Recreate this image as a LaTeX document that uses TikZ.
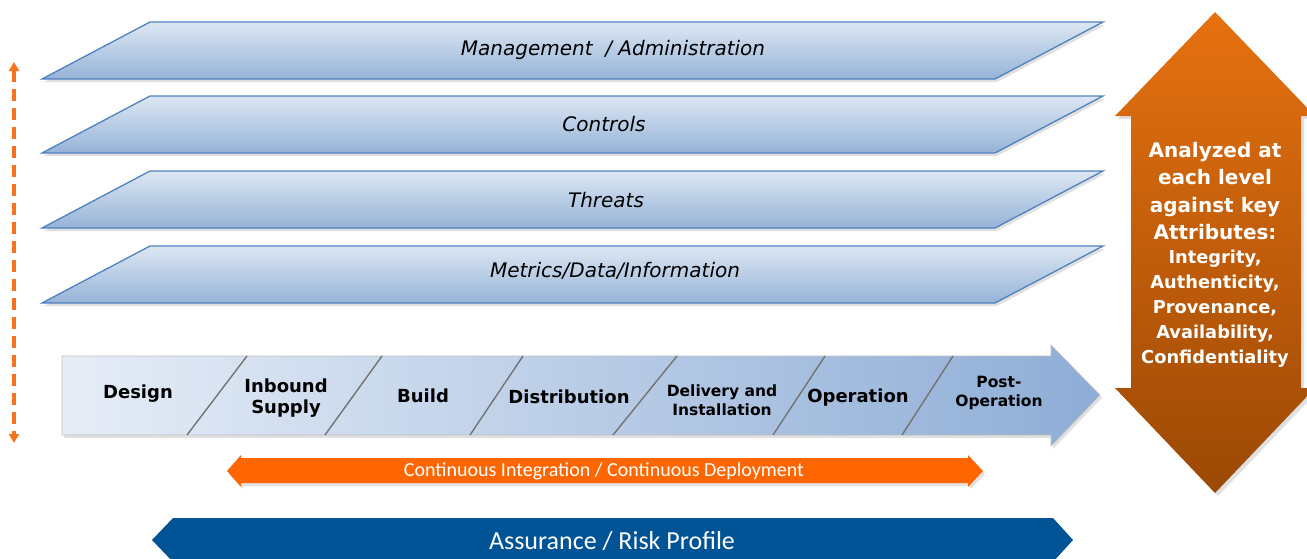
\documentclass[tikz,border=0pt]{standalone}
\usepackage{fontspec}
\setmainfont{DejaVu Sans}
\newfontfamily\calfont{Carlito}
\usetikzlibrary{arrows.meta}
\definecolor{layertop}{RGB}{221,231,243}
\definecolor{layerbot}{RGB}{149,179,215}
\definecolor{layeredge}{RGB}{79,129,189}
\definecolor{chevl}{RGB}{230,237,247}
\definecolor{chevr}{RGB}{142,173,214}
\definecolor{cicd}{RGB}{255,102,0}
\definecolor{assure}{RGB}{0,84,150}
\definecolor{oratop}{RGB}{230,113,16}
\definecolor{orabot}{RGB}{155,73,5}
\definecolor{dasharr}{RGB}{245,115,30}
\tikzset{
  layerbox/.style={top color=layertop, bottom color=layerbot, draw=layeredge, line width=1.3pt, line join=miter},
  shadowfill/.style={fill=black, opacity=0.12},
  layertext/.style={font=\itshape\fontsize{20}{24}\selectfont, text=black},
  stagetext/.style={font=\bfseries\fontsize{18}{21}\selectfont, align=center, text=black},
  smallstage/.style={font=\bfseries\fontsize{15.5}{19}\selectfont, align=center, text=black},
  divider/.style={draw=black!55, line width=1.4pt},
}
\begin{document}
\begin{tikzpicture}[x=1pt,y=-1pt]
\useasboundingbox (0,0) rectangle (1307,558);
% layers
\foreach \t/\b in {22/79,96/153,171/228,246/303}{
  \fill[shadowfill] (44,\b+3) -- (152,\t+3) -- (1105,\t+3) -- (997,\b+3) -- cycle;
  \shade[layerbox] (42,\b) -- (150,\t) -- (1103,\t) -- (995,\b) -- cycle;
}
\node[layertext] (mgmt) at (613,50) {Management\ \ /\ Administration};
\node[layertext] (ctrl) at (604,124) {Controls};
\node[layertext] (thr) at (606,200) {Threats};
\node[layertext] (met) at (615,271) {Metrics/Data/Information};
% dashed vertical arrow
\coordinate (dtop) at (14,62);
\coordinate (dbot) at (14,443);
\draw[dasharr, line width=3.2pt, dash pattern=on 12pt off 7pt, {Triangle[length=9pt,width=10pt]}-{Triangle[length=9pt,width=10pt]}] (dtop) -- (dbot);
% process chevron
\fill[shadowfill] (64,359) -- (1053,359) -- (1053,348) -- (1102,398) -- (1053,449) -- (1053,438) -- (64,438) -- cycle;
\shade[left color=chevl, right color=chevr, draw=black!25, line width=0.6pt]
  (62,356) -- (1051,356) -- (1051,345) -- (1100,395) -- (1051,446) -- (1051,435) -- (62,435) -- cycle;
\foreach \xb/\xt in {187/247,325/382,470/523,613/677,773/825,902/953}{
  \draw[divider] (\xb,435) -- (\xt,356);
}
\node[stagetext] (design) at (138,394) {Design};
\node[stagetext] (inbound) at (286,398) {Inbound\\Supply};
\node[stagetext] (build) at (423,396) {Build};
\node[stagetext] (dist) at (569,397) {Distribution};
\node[smallstage] (deliv) at (722,400) {Delivery and\\Installation};
\node[stagetext] (oper) at (858,398) {Operation};
\node[smallstage] (post) at (999,393) {Post-\\Operation};
% CI/CD arrow
\fill[shadowfill] (229,474) -- (243,458) -- (243,461) -- (970,461) -- (970,458) -- (985,474) -- (970,489) -- (970,486) -- (243,486) -- (243,489) -- cycle;
\fill[cicd] (227,471) -- (241,455) -- (241,458) -- (968,458) -- (968,455) -- (983,471) -- (968,487) -- (968,483) -- (241,483) -- (241,487) -- cycle;
\node[text=white, font=\calfont\fontsize{20}{24}\selectfont] (ci) at (604,471) {Continuous Integration / Continuous Deployment};
% assurance
\fill[assure] (152,540) -- (173,518) -- (1053,518) -- (1073,540) -- (1053,562) -- (173,562) -- cycle;
\node[text=white, font=\calfont\fontsize{26}{31}\selectfont] (assur) at (612,541) {Assurance / Risk Profile};
% right double arrow
\fill[shadowfill] (1218,15) -- (1318,119) -- (1304,119) -- (1304,391) -- (1318,391) -- (1218,496) -- (1118,391) -- (1134,391) -- (1134,119) -- (1118,119) -- cycle;
\shade[top color=oratop, bottom color=orabot]
  (1215,12) -- (1315,116) -- (1301,116) -- (1301,388) -- (1315,388) -- (1215,493) -- (1115,388) -- (1131,388) -- (1131,116) -- (1115,116) -- cycle;
\node[text=white, align=center, font=\bfseries\fontsize{20}{27.5}\selectfont] (anal) at (1215,191) {Analyzed at\\each level\\against key\\Attributes:};
\node[text=white, align=center, font=\bfseries\fontsize{17.8}{25}\selectfont] (attrs) at (1215,309) {Integrity,\\Authenticity,\\Provenance,\\Availability,\\Confidentiality};
\end{tikzpicture}
\end{document}
